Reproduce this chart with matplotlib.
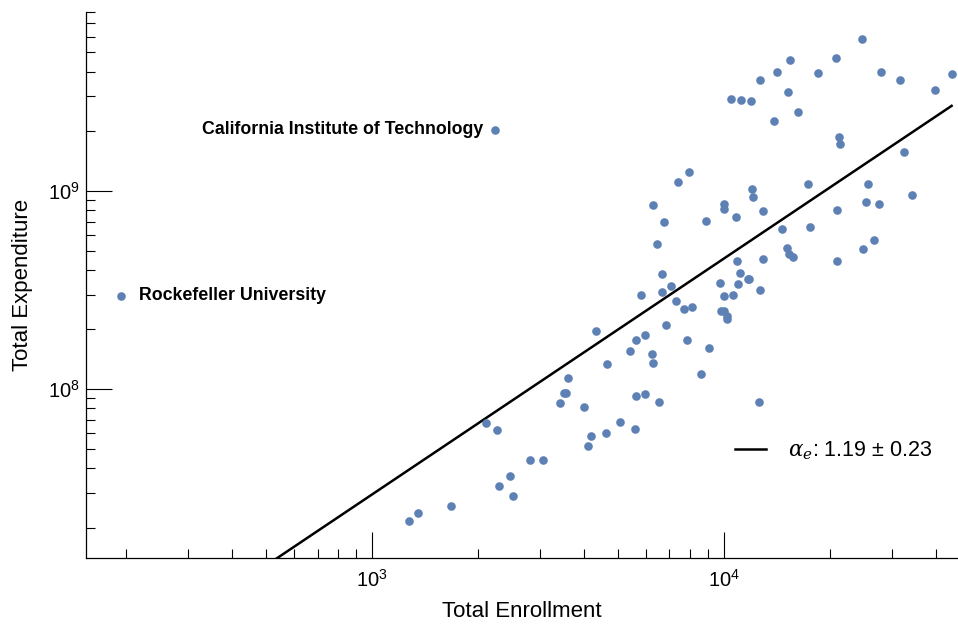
import numpy as np
import matplotlib.pyplot as plt
from matplotlib.ticker import LogLocator, NullFormatter

plt.rcParams['font.family'] = ['Liberation Sans', 'DejaVu Sans']
plt.rcParams['mathtext.fontset'] = 'custom'
plt.rcParams['mathtext.rm'] = 'Liberation Sans'
plt.rcParams['mathtext.it'] = 'DejaVu Serif:italic'
plt.rcParams['mathtext.default'] = 'regular'

# Universities: total enrollment vs total expenditure (first two are labelled)
names = ['California Institute of Technology', 'Rockefeller University']
enrollment = [2240, 193, 24700, 15400, 20800, 14200, 18500, 28000, 44400, 12700,
              31700, 15200, 39900, 10500, 11200, 11900, 16200, 13900, 21200, 21400,
              32500, 7970, 7420, 17300, 25600, 34300, 12000, 12100, 6270, 10000,
              10000, 25400, 27600, 6740, 8870, 10800, 12900, 21000, 14600, 17600,
              6470, 26800, 15100, 15300, 15700, 24900, 12900, 21000, 10900, 6650,
              11100, 11700, 11800, 7070, 9720, 5810, 6650, 11000, 10020, 10600,
              12700, 7320, 7680, 8090, 9810, 9980, 10200, 10170, 6840, 4330,
              5640, 5950, 7850, 5390, 6240, 6300, 9040, 4650, 8620, 3600,
              3500, 3560, 3420, 4010, 5630, 5950, 6520, 12600, 2100, 2260,
              5080, 4200, 4610, 5570, 4110, 2800, 3060, 2470, 2290, 2510,
              1270, 1350, 1670]
expenditure = [2.04e9, 2.96e8, 5.86e9, 4.60e9, 4.67e9, 3.97e9, 3.94e9, 4.00e9, 3.88e9, 3.62e9,
               3.61e9, 3.17e9, 3.22e9, 2.91e9, 2.89e9, 2.86e9, 2.49e9, 2.26e9, 1.87e9, 1.73e9,
               1.58e9, 1.24e9, 1.11e9, 1.08e9, 1.08e9, 9.50e8, 1.02e9, 9.36e8, 8.53e8, 8.60e8,
               8.14e8, 8.76e8, 8.56e8, 7.00e8, 7.08e8, 7.39e8, 7.89e8, 7.98e8, 6.43e8, 6.60e8,
               5.42e8, 5.68e8, 5.13e8, 4.82e8, 4.62e8, 5.11e8, 4.54e8, 4.45e8, 4.41e8, 3.79e8,
               3.85e8, 3.61e8, 3.59e8, 3.31e8, 3.44e8, 2.99e8, 3.10e8, 3.40e8, 2.96e8, 3.00e8,
               3.17e8, 2.77e8, 2.54e8, 2.61e8, 2.48e8, 2.49e8, 2.35e8, 2.25e8, 2.11e8, 1.97e8,
               1.77e8, 1.87e8, 1.77e8, 1.55e8, 1.50e8, 1.36e8, 1.62e8, 1.34e8, 1.19e8, 1.14e8,
               9.54e7, 9.54e7, 8.55e7, 8.14e7, 9.18e7, 9.47e7, 8.60e7, 8.60e7, 6.73e7, 6.23e7,
               6.84e7, 5.79e7, 5.97e7, 6.28e7, 5.17e7, 4.38e7, 4.38e7, 3.66e7, 3.26e7, 2.88e7,
               2.17e7, 2.38e7, 2.58e7]

# Power-law fit: log10(E) = intercept + alpha * log10(N)
alpha = 1.19
alpha_err = 0.23
fit_log_intercept = 3.899

blue = '#5E81B5'

fig = plt.figure(figsize=(9.58, 6.25), dpi=100)
ax = fig.add_axes([0.0893, 0.1077, 0.9107, 0.8731])

ax.plot(enrollment, expenditure, 'o', color=blue, markersize=6.2,
        markeredgewidth=0, clip_on=False, zorder=3)

xfit = np.logspace(np.log10(min(enrollment)), np.log10(max(enrollment)), 200)
yfit = 10 ** (fit_log_intercept + alpha * np.log10(xfit))
ax.plot(xfit, yfit, color='black', lw=1.8, zorder=2,
        label=f'$\\mathit{{\\alpha_e}}$: {alpha:.2f} ± {alpha_err:.2f}')

# name tags next to the two outliers
ax.annotate(names[0], (enrollment[0], expenditure[0]), xytext=(-8.5, 0),
            textcoords='offset points', ha='right', va='center',
            fontsize=12.8, fontweight='bold')
ax.annotate(names[1], (enrollment[1], expenditure[1]), xytext=(13, 0),
            textcoords='offset points', ha='left', va='center',
            fontsize=12.8, fontweight='bold')

ax.set_xscale('log')
ax.set_yscale('log')
ax.set_xlim(153, 46300)
ax.set_ylim(1.41e7, 8.0e9)

for axis in (ax.xaxis, ax.yaxis):
    axis.set_major_locator(LogLocator(base=10))
    axis.set_minor_locator(LogLocator(base=10, subs=np.arange(2, 10)))
    axis.set_minor_formatter(NullFormatter())

ax.spines['top'].set_visible(False)
ax.spines['right'].set_visible(False)
ax.spines['left'].set_linewidth(0.9)
ax.spines['bottom'].set_linewidth(0.9)
ax.tick_params(which='major', direction='in', length=19, width=0.8, labelsize=14.5)
ax.tick_params(which='minor', direction='in', length=6.5, width=0.8)
ax.tick_params(axis='x', which='major', pad=8)
ax.tick_params(axis='y', which='major', pad=4)

ax.set_xlabel('Total Enrollment', fontsize=16)
ax.set_ylabel('Total Expenditure', fontsize=16)
ax.xaxis.set_label_coords(0.5, -0.080)
ax.yaxis.set_label_coords(-0.0603, 0.5)

ax.legend(loc='center left', bbox_to_anchor=(0.767, 0.279),
          bbox_transform=fig.transFigure, frameon=False, fontsize=15.5,
          handlelength=1.45, handletextpad=1.0, borderpad=0, borderaxespad=0)

fig.savefig('out.png', dpi=100)
